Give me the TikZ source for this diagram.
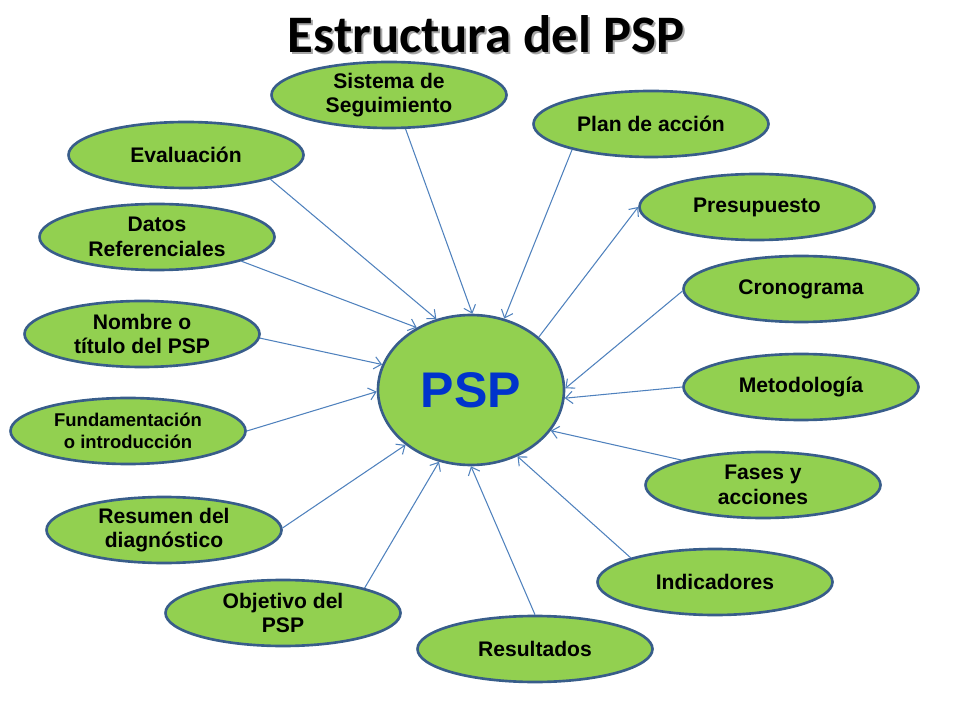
\documentclass[tikz,border=0pt]{standalone}
\usepackage{fontspec}
\setmainfont{Liberation Sans}
\newfontfamily\titulofont{Carlito}
\usetikzlibrary{shapes.geometric,arrows.meta}

\definecolor{verde}{RGB}{146,208,80}
\definecolor{borde}{RGB}{56,93,138}
\definecolor{linea}{RGB}{79,129,189}
\definecolor{azulpsp}{RGB}{0,51,204}

\tikzset{
  elipse/.style={ellipse, draw=borde, line width=1.5pt, fill=verde, minimum width=4.7cm, minimum height=1.32cm,
    inner sep=0pt, align=center, font=\bfseries\fontsize{12}{14}\selectfont},
  flecha/.style={draw=linea, line width=0.6pt, -{Straight Barb[length=4pt,width=7pt]}}
}

\begin{document}
\begin{tikzpicture}
  \useasboundingbox (0,0) rectangle (19.2,14.4);

  % titulo
  \node[text=black!35, font=\titulofont\bfseries\fontsize{30}{34}\selectfont] (sombra) at (9.76,13.68) {Estructura del PSP};
  \node[font=\titulofont\bfseries\fontsize{30}{34}\selectfont] (titulo) at (9.72,13.72) {Estructura del PSP};

  % centro
  \node[ellipse, draw=borde, line width=1.5pt, fill=verde, minimum width=3.72cm, minimum height=3cm,
    text=azulpsp, font=\bfseries\fontsize{28.5}{32}\selectfont] (psp) at (9.42,6.60) {PSP};

  % elementos
  \node[elipse] (sis) at (7.78,12.50) {Sistema de\\Seguimiento};
  \node[elipse] (plan) at (13.02,11.92) {Plan de acción};
  \node[elipse] (pres) at (15.14,10.26) {Presupuesto};
  \node[elipse] (cron) at (16.02,8.62) {Cronograma};
  \node[elipse] (met) at (16.02,6.66) {Metodología};
  \node[elipse] (fases) at (15.26,4.70) {Fases y\\acciones};
  \node[elipse] (ind) at (14.30,2.76) {Indicadores};
  \node[elipse] (res) at (10.70,1.42) {Resultados};
  \node[elipse] (obj) at (5.66,2.14) {Objetivo del\\PSP};
  \node[elipse] (resum) at (3.28,3.80) {Resumen del\\diagnóstico};
  \node[elipse, font=\bfseries\fontsize{10.5}{12.5}\selectfont] (fund) at (2.56,5.78) {Fundamentación\\o introducción};
  \node[elipse] (nom) at (2.84,7.72) {Nombre o\\título del PSP};
  \node[elipse] (datos) at (3.14,9.66) {Datos\\Referenciales};
  \node[elipse] (eva) at (3.72,11.30) {Evaluación};

  % flechas
  \draw[flecha] (sis.296) -- (psp.89);
  \draw[flecha] (plan.198) -- (psp.65);
  \draw[flecha] (psp.38) -- (pres.180);
  \draw[flecha] (cron.181) -- (psp.1);
  \draw[flecha] (met.180) -- (psp.355);
  \draw[flecha] (fases.163) -- (psp.333);
  \draw[flecha] (ind.164) -- (psp.305);
  \draw[flecha] (res.90) -- (psp.270);
  \draw[flecha] (obj.17) -- (psp.246);
  \draw[flecha] (resum.1) -- (psp.220);
  \draw[flecha] (fund.0) -- (psp.181);
  \draw[flecha] (nom.358) -- (psp.164);
  \draw[flecha] (datos.344) -- (psp.131);
  \draw[flecha] (eva.344) -- (psp.116);
\end{tikzpicture}
\end{document}
